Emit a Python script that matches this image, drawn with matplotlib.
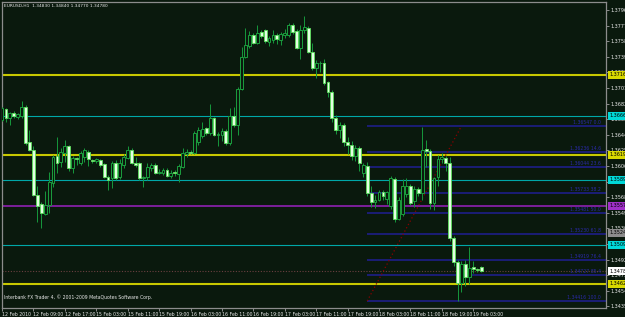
import matplotlib.pyplot as plt
from matplotlib.patches import Rectangle

plt.rcParams['font.family'] = ['Liberation Sans Narrow', 'DejaVu Sans']

symbol = "EURUSD,H1"

# EURUSD H1 candles, 12 Feb 2010 01:00 .. 19 Feb 2010 06:00
opens = [1.3662, 1.3675, 1.3665, 1.3671, 1.3666, 1.3667, 1.3678, 1.3635, 1.3626, 1.3571,
         1.3560, 1.3548, 1.3558, 1.3585, 1.3618, 1.3611, 1.3622, 1.3630, 1.3604, 1.3616,
         1.3610, 1.3617, 1.3623, 1.3613, 1.3612, 1.3613, 1.3608, 1.3593, 1.3591, 1.3610,
         1.3592, 1.3607, 1.3616, 1.3626, 1.3609, 1.3609, 1.3591, 1.3593, 1.3604, 1.3607,
         1.3598, 1.3598, 1.3601, 1.3594, 1.3599, 1.3596, 1.3605, 1.3621, 1.3623, 1.3622,
         1.3635, 1.3642, 1.3652, 1.3646, 1.3664, 1.3644, 1.3644, 1.3649, 1.3634, 1.3667,
         1.3656, 1.3700, 1.3739, 1.3752, 1.3765, 1.3756, 1.3769, 1.3771, 1.3757, 1.3760,
         1.3766, 1.3760, 1.3766, 1.3766, 1.3778, 1.3770, 1.3750, 1.3772, 1.3774, 1.3745,
         1.3725, 1.3731, 1.3731, 1.3708, 1.3696, 1.3664, 1.3650, 1.3656, 1.3635, 1.3632,
         1.3618, 1.3628, 1.3597, 1.3606, 1.3573, 1.3562, 1.3565, 1.3574, 1.3566, 1.3557,
         1.3590, 1.3542, 1.3547, 1.3572, 1.3581, 1.3563, 1.3578, 1.3573, 1.3627, 1.3624,
         1.3561, 1.3592, 1.3614, 1.3616, 1.3610, 1.3518, 1.3489, 1.3463, 1.3487, 1.3471,
         1.3483, 1.3480, 1.3483]
highs = [1.3678, 1.3677, 1.3672, 1.3673, 1.3670, 1.3685, 1.3680, 1.3650, 1.3630, 1.3582,
         1.3562, 1.3575, 1.3599, 1.3619, 1.3641, 1.3628, 1.3638, 1.3632, 1.3618, 1.3617,
         1.3624, 1.3628, 1.3625, 1.3615, 1.3616, 1.3615, 1.3610, 1.3595, 1.3612, 1.3613,
         1.3614, 1.3620, 1.3630, 1.3628, 1.3617, 1.3611, 1.3594, 1.3610, 1.3609, 1.3609,
         1.3602, 1.3604, 1.3603, 1.3601, 1.3601, 1.3608, 1.3628, 1.3627, 1.3626, 1.3648,
         1.3653, 1.3660, 1.3654, 1.3681, 1.3666, 1.3647, 1.3652, 1.3651, 1.3677, 1.3678,
         1.3702, 1.3751, 1.3774, 1.3770, 1.3768, 1.3778, 1.3771, 1.3773, 1.3764, 1.3772,
         1.3768, 1.3769, 1.3773, 1.3780, 1.3780, 1.3773, 1.3778, 1.3789, 1.3776, 1.3756,
         1.3735, 1.3734, 1.3736, 1.3710, 1.3698, 1.3668, 1.3660, 1.3658, 1.3641, 1.3636,
         1.3632, 1.3630, 1.3610, 1.3611, 1.3581, 1.3571, 1.3577, 1.3577, 1.3575, 1.3594,
         1.3592, 1.3568, 1.3590, 1.3591, 1.3584, 1.3582, 1.3580, 1.3654, 1.3638, 1.3627,
         1.3593, 1.3619, 1.3622, 1.3618, 1.3617, 1.3521, 1.3492, 1.3490, 1.3492, 1.3507,
         1.3490, 1.3482, 1.3484]
lows = [1.3661, 1.3660, 1.3656, 1.3664, 1.3663, 1.3664, 1.3632, 1.3624, 1.3569, 1.3538,
        1.3531, 1.3546, 1.3549, 1.3580, 1.3598, 1.3605, 1.3611, 1.3600, 1.3598, 1.3607,
        1.3607, 1.3611, 1.3606, 1.3609, 1.3609, 1.3605, 1.3591, 1.3577, 1.3579, 1.3589,
        1.3590, 1.3603, 1.3614, 1.3608, 1.3605, 1.3589, 1.3580, 1.3589, 1.3600, 1.3596,
        1.3596, 1.3595, 1.3592, 1.3591, 1.3594, 1.3587, 1.3603, 1.3617, 1.3620, 1.3620,
        1.3632, 1.3640, 1.3644, 1.3644, 1.3642, 1.3630, 1.3636, 1.3632, 1.3631, 1.3654,
        1.3644, 1.3699, 1.3738, 1.3750, 1.3754, 1.3754, 1.3762, 1.3756, 1.3752, 1.3756,
        1.3755, 1.3753, 1.3762, 1.3763, 1.3767, 1.3748, 1.3736, 1.3768, 1.3743, 1.3723,
        1.3713, 1.3721, 1.3705, 1.3690, 1.3660, 1.3645, 1.3640, 1.3630, 1.3620, 1.3613,
        1.3612, 1.3600, 1.3592, 1.3570, 1.3556, 1.3555, 1.3563, 1.3565, 1.3560, 1.3553,
        1.3538, 1.3540, 1.3545, 1.3568, 1.3558, 1.3556, 1.3570, 1.3565, 1.3605, 1.3553,
        1.3552, 1.3581, 1.3610, 1.3600, 1.3514, 1.3484, 1.3442, 1.3452, 1.3460, 1.3462,
        1.3476, 1.3477, 1.3477]
closes = [1.3677, 1.3664, 1.3670, 1.3667, 1.3669, 1.3678, 1.3634, 1.3626, 1.3571, 1.3557,
          1.3549, 1.3558, 1.3586, 1.3617, 1.3610, 1.3623, 1.3630, 1.3603, 1.3616, 1.3614,
          1.3622, 1.3625, 1.3614, 1.3612, 1.3614, 1.3607, 1.3593, 1.3589, 1.3610, 1.3591,
          1.3610, 1.3617, 1.3626, 1.3610, 1.3607, 1.3591, 1.3592, 1.3605, 1.3607, 1.3598,
          1.3599, 1.3601, 1.3594, 1.3598, 1.3597, 1.3606, 1.3622, 1.3623, 1.3622, 1.3646,
          1.3650, 1.3651, 1.3646, 1.3664, 1.3644, 1.3645, 1.3649, 1.3634, 1.3667, 1.3656,
          1.3700, 1.3739, 1.3753, 1.3766, 1.3756, 1.3768, 1.3764, 1.3758, 1.3762, 1.3766,
          1.3761, 1.3767, 1.3768, 1.3778, 1.3769, 1.3750, 1.3772, 1.3775, 1.3745, 1.3725,
          1.3731, 1.3732, 1.3707, 1.3696, 1.3664, 1.3650, 1.3656, 1.3635, 1.3632, 1.3618,
          1.3628, 1.3610, 1.3607, 1.3573, 1.3562, 1.3564, 1.3574, 1.3569, 1.3574, 1.3591,
          1.3541, 1.3565, 1.3581, 1.3582, 1.3561, 1.3578, 1.3573, 1.3626, 1.3624, 1.3561,
          1.3591, 1.3614, 1.3617, 1.3610, 1.3518, 1.3489, 1.3463, 1.3486, 1.3471, 1.3482,
          1.3480, 1.3479, 1.3478]

time_labels = ["12 Feb 2010", "12 Feb 09:00", "12 Feb 17:00", "15 Feb 03:00", "15 Feb 11:00",
               "15 Feb 19:00", "16 Feb 03:00", "16 Feb 11:00", "16 Feb 19:00", "17 Feb 03:00",
               "17 Feb 11:00", "17 Feb 19:00", "18 Feb 03:00", "18 Feb 11:00", "18 Feb 19:00",
               "19 Feb 03:00"]
price_labels = ["1.37960", "1.37770", "1.37580", "1.37390", "1.37200", "1.37010", "1.36820",
                "1.36630", "1.36440", "1.36250", "1.36060", "1.35870", "1.35680", "1.35490",
                "1.35300", "1.35110", "1.34920", "1.34730", "1.34540", "1.34350"]

# horizontal levels
yellow_levels = [1.37168, 1.36194, 1.34623]
cyan_levels = [1.36669, 1.35890, 1.35098]
purple_levels = [1.35573]
gray_levels = [1.35244]

# fibonacci retracement (anchor bar, price)
fib_start = (93, 1.34416)
fib_end = (117, 1.36547)
fib_ratios = [0.0, 14.6, 23.6, 38.2, 50.0, 61.8, 76.4, 85.4, 100.0]

bg = '#0a190d'
wick_col = '#15943a'
bull_edge = '#1a9a3c'
bear_face = '#e2ffe2'
bear_edge = '#5ce05c'

fig = plt.figure(figsize=(6.25, 3.17), dpi=100, facecolor=bg)
ax = fig.add_axes([2 / 625, 9 / 317, 604 / 625, 306 / 317])
ax.set_facecolor(bg)
ax.set_xlim(0.08, 153.8)
ax.set_ylim(1.34330, 1.38057)

for lv in yellow_levels:
    ax.axhline(lv, color='#c8c800', lw=1.5, zorder=1)
for lv in cyan_levels:
    ax.axhline(lv, color='#00a8a8', lw=0.8, zorder=1)
for lv in purple_levels:
    ax.axhline(lv, color='#9a22c0', lw=1.1, zorder=1)

# bid line
ax.axhline(closes[-1], color='#6a4040', lw=0.8, ls=(0, (1, 1.5)), zorder=1)

# fibo
x0, p0 = fib_start
x1, p1 = fib_end
for r in fib_ratios:
    lv = p1 - (p1 - p0) * r / 100
    ax.hlines(lv, x0, 153.8, color='#1e1e88', lw=1.2, zorder=1)
    ax.text(152.5, lv + 0.00012, "%.5f %.1f" % (lv, r), color='#2a2aa8',
            fontsize=3.3, ha='right', va='bottom', zorder=2)
ax.plot([x0, x1], [p0, p1], color='#8a0000', lw=0.9, ls=(0, (1, 2)), zorder=2)

# candles
for i, (o, h, l, c) in enumerate(zip(opens, highs, lows, closes)):
    ax.vlines(i, l, h, color=wick_col, lw=0.72, zorder=3)
    lo, hi = min(o, c), max(o, c)
    if hi - lo < 0.00005:
        hi = lo + 0.00005
    if c >= o:
        ax.add_patch(Rectangle((i - 0.36, lo), 0.72, hi - lo, fc=bg, ec=bull_edge,
                               lw=0.72, zorder=4))
    else:
        ax.add_patch(Rectangle((i - 0.36, lo), 0.72, hi - lo, fc=bear_face, ec=bear_edge,
                               lw=0.6, zorder=4))

# axes styling
for s in ['top', 'left', 'bottom', 'right']:
    ax.spines[s].set_color('#8c8c8c')
    ax.spines[s].set_linewidth(0.9)

ax.set_xticks(range(0, 8 * len(time_labels), 8))
ax.set_xticklabels(time_labels, ha='left')
ax.tick_params(axis='x', colors='#8c8c8c', length=2, width=0.7, pad=1,
               labelsize=3.3, labelcolor='#e8e8e8')

tick_vals = [float(t) for t in price_labels]
ax.yaxis.tick_right()
ax.set_yticks(tick_vals)
ax.set_yticklabels(price_labels)
ax.tick_params(axis='y', colors='#8c8c8c', length=2, width=0.7, pad=1.5,
               labelsize=3.5, labelcolor='#e8e8e8')

# price boxes on the right scale
tr = ax.get_yaxis_transform()
boxes = ([(v, '#d8d800') for v in yellow_levels] + [(v, '#00d8d8') for v in cyan_levels]
         + [(v, '#a030c8') for v in purple_levels] + [(v, '#8c8c8c') for v in gray_levels]
         + [(closes[-1], '#ffffff')])
for v, col in boxes:
    ax.text(1.005, v, "%.5f" % v, transform=tr, fontsize=3.5, color='black', va='center',
            ha='left', clip_on=False, zorder=6,
            bbox=dict(boxstyle='square,pad=0.3', fc=col, ec='none'))

fig.text(4 / 625, 1 - 4 / 317, "%s  %.5f %.5f %.5f %.5f" % (symbol, opens[-1], highs[-1],
         lows[-1], closes[-1]), color='#e8e8e8', fontsize=3.2, va='top', ha='left')
ax.text(0.004, 0.025, "Interbank FX Trader 4, \u00a9 2001-2009 MetaQuotes Software Corp.",
        transform=ax.transAxes, color='#e8e8e8', fontsize=3.3, va='bottom', ha='left')

fig.savefig('out.png', dpi=100, facecolor=bg)
